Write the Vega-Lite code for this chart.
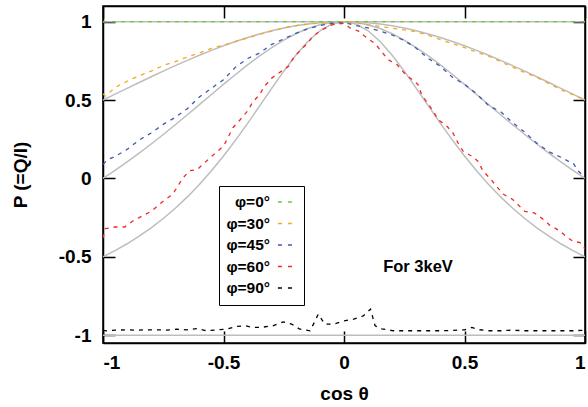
{
  "$schema": "https://vega.github.io/schema/vega-lite/v6.json",
  "width": 482,
  "height": 337,
  "autosize": "none",
  "padding": {"left": 103, "top": 6, "right": 3, "bottom": 64},
  "background": "white",
  "config": {
    "view": {"stroke": "black", "strokeWidth": 1.5},
    "axis": {
      "domainColor": "black", "domainWidth": 1.5,
      "labelFont": "Liberation Sans", "labelFontSize": 19, "labelFontWeight": "bold", "labelColor": "black",
      "titleFont": "Liberation Sans", "titleFontSize": 19, "titleFontWeight": "bold", "titleColor": "black",
      "grid": false, "ticks": false
    },
    "legend": {
      "orient": "none", "legendX": 116, "legendY": 180,
      "strokeColor": "black", "fillColor": "white", "padding": 8,
      "labelFont": "Liberation Sans", "labelFontSize": 15.5, "labelFontWeight": "bold", "labelColor": "black",
      "labelAlign": "right", "labelOffset": -23, "symbolOffset": 50,
      "symbolType": "stroke", "symbolSize": 200, "symbolStrokeWidth": 1.5, "symbolDash": [4, 6],
      "rowPadding": 4.5
    }
  },
  "datasets": {
    "theory": [
      {"g":"0","c":-1,"P":1},{"g":"0","c":1,"P":1},
      {"g":"90","c":-1,"P":-1},{"g":"90","c":1,"P":-1},
      {"g":"30","c":-1,"P":0.5},{"g":"30","c":-0.95,"P":0.5375},{"g":"30","c":-0.9,"P":0.5748},{"g":"30","c":-0.85,"P":0.6118},{"g":"30","c":-0.8,"P":0.6484},{"g":"30","c":-0.75,"P":0.6842},{"g":"30","c":-0.7,"P":0.7192},{"g":"30","c":-0.65,"P":0.7531},{"g":"30","c":-0.6,"P":0.7857},{"g":"30","c":-0.55,"P":0.8168},{"g":"30","c":-0.5,"P":0.8462},{"g":"30","c":-0.45,"P":0.8735},{"g":"30","c":-0.4,"P":0.8987},{"g":"30","c":-0.35,"P":0.9215},{"g":"30","c":-0.3,"P":0.9418},{"g":"30","c":-0.25,"P":0.9592},{"g":"30","c":-0.2,"P":0.9737},{"g":"30","c":-0.15,"P":0.9851},{"g":"30","c":-0.1,"P":0.9934},{"g":"30","c":-0.05,"P":0.9983},{"g":"30","c":0,"P":1},
      {"g":"30","c":0.05,"P":0.9983},{"g":"30","c":0.1,"P":0.9934},{"g":"30","c":0.15,"P":0.9851},{"g":"30","c":0.2,"P":0.9737},{"g":"30","c":0.25,"P":0.9592},{"g":"30","c":0.3,"P":0.9418},{"g":"30","c":0.35,"P":0.9215},{"g":"30","c":0.4,"P":0.8987},{"g":"30","c":0.45,"P":0.8735},{"g":"30","c":0.5,"P":0.8462},{"g":"30","c":0.55,"P":0.8168},{"g":"30","c":0.6,"P":0.7857},{"g":"30","c":0.65,"P":0.7531},{"g":"30","c":0.7,"P":0.7192},{"g":"30","c":0.75,"P":0.6842},{"g":"30","c":0.8,"P":0.6484},{"g":"30","c":0.85,"P":0.6118},{"g":"30","c":0.9,"P":0.5748},{"g":"30","c":0.95,"P":0.5375},{"g":"30","c":1,"P":0.5},
      {"g":"45","c":-1,"P":0},{"g":"45","c":-0.95,"P":0.0513},{"g":"45","c":-0.9,"P":0.105},{"g":"45","c":-0.85,"P":0.1611},{"g":"45","c":-0.8,"P":0.2195},{"g":"45","c":-0.75,"P":0.28},{"g":"45","c":-0.7,"P":0.3423},{"g":"45","c":-0.65,"P":0.406},{"g":"45","c":-0.6,"P":0.4706},{"g":"45","c":-0.55,"P":0.5355},{"g":"45","c":-0.5,"P":0.6},{"g":"45","c":-0.45,"P":0.6632},{"g":"45","c":-0.4,"P":0.7241},{"g":"45","c":-0.35,"P":0.7817},{"g":"45","c":-0.3,"P":0.8349},{"g":"45","c":-0.25,"P":0.8824},{"g":"45","c":-0.2,"P":0.9231},{"g":"45","c":-0.15,"P":0.956},{"g":"45","c":-0.1,"P":0.9802},{"g":"45","c":-0.05,"P":0.995},{"g":"45","c":0,"P":1},
      {"g":"45","c":0.05,"P":0.995},{"g":"45","c":0.1,"P":0.9802},{"g":"45","c":0.15,"P":0.956},{"g":"45","c":0.2,"P":0.9231},{"g":"45","c":0.25,"P":0.8824},{"g":"45","c":0.3,"P":0.8349},{"g":"45","c":0.35,"P":0.7817},{"g":"45","c":0.4,"P":0.7241},{"g":"45","c":0.45,"P":0.6632},{"g":"45","c":0.5,"P":0.6},{"g":"45","c":0.55,"P":0.5355},{"g":"45","c":0.6,"P":0.4706},{"g":"45","c":0.65,"P":0.406},{"g":"45","c":0.7,"P":0.3423},{"g":"45","c":0.75,"P":0.28},{"g":"45","c":0.8,"P":0.2195},{"g":"45","c":0.85,"P":0.1611},{"g":"45","c":0.9,"P":0.105},{"g":"45","c":0.95,"P":0.0513},{"g":"45","c":1,"P":0},
      {"g":"60","c":-1,"P":-0.5},{"g":"60","c":-0.95,"P":-0.4606},{"g":"60","c":-0.9,"P":-0.4169},{"g":"60","c":-0.85,"P":-0.3686},{"g":"60","c":-0.8,"P":-0.3151},{"g":"60","c":-0.75,"P":-0.2558},{"g":"60","c":-0.7,"P":-0.1903},{"g":"60","c":-0.65,"P":-0.118},{"g":"60","c":-0.6,"P":-0.0385},{"g":"60","c":-0.55,"P":0.0485},{"g":"60","c":-0.5,"P":0.1429},{"g":"60","c":-0.45,"P":0.2442},{"g":"60","c":-0.4,"P":0.3514},{"g":"60","c":-0.35,"P":0.4625},{"g":"60","c":-0.3,"P":0.5748},{"g":"60","c":-0.25,"P":0.6842},{"g":"60","c":-0.2,"P":0.7857},{"g":"60","c":-0.15,"P":0.8735},{"g":"60","c":-0.1,"P":0.9418},{"g":"60","c":-0.05,"P":0.9851},{"g":"60","c":0,"P":1},
      {"g":"60","c":0.05,"P":0.9851},{"g":"60","c":0.1,"P":0.9418},{"g":"60","c":0.15,"P":0.8735},{"g":"60","c":0.2,"P":0.7857},{"g":"60","c":0.25,"P":0.6842},{"g":"60","c":0.3,"P":0.5748},{"g":"60","c":0.35,"P":0.4625},{"g":"60","c":0.4,"P":0.3514},{"g":"60","c":0.45,"P":0.2442},{"g":"60","c":0.5,"P":0.1429},{"g":"60","c":0.55,"P":0.0485},{"g":"60","c":0.6,"P":-0.0385},{"g":"60","c":0.65,"P":-0.118},{"g":"60","c":0.7,"P":-0.1903},{"g":"60","c":0.75,"P":-0.2558},{"g":"60","c":0.8,"P":-0.3151},{"g":"60","c":0.85,"P":-0.3686},{"g":"60","c":0.9,"P":-0.4169},{"g":"60","c":0.95,"P":-0.4606},{"g":"60","c":1,"P":-0.5}
    ],
    "sim": [
      {"s":"φ=0°","c":-1,"P":1},{"s":"φ=0°","c":1,"P":1},
      {"s":"φ=30°","c":-1,"P":0.54},{"s":"φ=30°","c":-0.99,"P":0.525},{"s":"φ=30°","c":-0.95,"P":0.58},{"s":"φ=30°","c":-0.9,"P":0.62},{"s":"φ=30°","c":-0.85,"P":0.655},{"s":"φ=30°","c":-0.8,"P":0.685},{"s":"φ=30°","c":-0.75,"P":0.72},{"s":"φ=30°","c":-0.7,"P":0.745},{"s":"φ=30°","c":-0.65,"P":0.775},{"s":"φ=30°","c":-0.6,"P":0.8},{"s":"φ=30°","c":-0.55,"P":0.83},{"s":"φ=30°","c":-0.5,"P":0.85},{"s":"φ=30°","c":-0.45,"P":0.875},{"s":"φ=30°","c":-0.4,"P":0.895},{"s":"φ=30°","c":-0.35,"P":0.92},{"s":"φ=30°","c":-0.3,"P":0.94},{"s":"φ=30°","c":-0.25,"P":0.96},{"s":"φ=30°","c":-0.2,"P":0.975},{"s":"φ=30°","c":-0.15,"P":0.985},{"s":"φ=30°","c":-0.1,"P":0.99},{"s":"φ=30°","c":-0.05,"P":0.995},{"s":"φ=30°","c":0,"P":1},
      {"s":"φ=30°","c":0.05,"P":0.995},{"s":"φ=30°","c":0.1,"P":0.98},{"s":"φ=30°","c":0.15,"P":0.97},{"s":"φ=30°","c":0.2,"P":0.958},{"s":"φ=30°","c":0.25,"P":0.948},{"s":"φ=30°","c":0.3,"P":0.935},{"s":"φ=30°","c":0.35,"P":0.913},{"s":"φ=30°","c":0.4,"P":0.885},{"s":"φ=30°","c":0.45,"P":0.86},{"s":"φ=30°","c":0.5,"P":0.835},{"s":"φ=30°","c":0.55,"P":0.805},{"s":"φ=30°","c":0.6,"P":0.78},{"s":"φ=30°","c":0.65,"P":0.745},{"s":"φ=30°","c":0.7,"P":0.71},{"s":"φ=30°","c":0.75,"P":0.675},{"s":"φ=30°","c":0.8,"P":0.645},{"s":"φ=30°","c":0.85,"P":0.605},{"s":"φ=30°","c":0.9,"P":0.565},{"s":"φ=30°","c":0.95,"P":0.535},{"s":"φ=30°","c":1,"P":0.5},
      {"s":"φ=45°","c":-1,"P":0.09},{"s":"φ=45°","c":-0.98,"P":0.12},{"s":"φ=45°","c":-0.95,"P":0.14},{"s":"φ=45°","c":-0.9,"P":0.185},{"s":"φ=45°","c":-0.85,"P":0.245},{"s":"φ=45°","c":-0.8,"P":0.29},{"s":"φ=45°","c":-0.75,"P":0.345},{"s":"φ=45°","c":-0.7,"P":0.39},{"s":"φ=45°","c":-0.65,"P":0.445},{"s":"φ=45°","c":-0.6,"P":0.52},{"s":"φ=45°","c":-0.55,"P":0.575},{"s":"φ=45°","c":-0.5,"P":0.63},{"s":"φ=45°","c":-0.45,"P":0.71},{"s":"φ=45°","c":-0.4,"P":0.765},{"s":"φ=45°","c":-0.35,"P":0.8},{"s":"φ=45°","c":-0.3,"P":0.855},{"s":"φ=45°","c":-0.25,"P":0.89},{"s":"φ=45°","c":-0.2,"P":0.925},{"s":"φ=45°","c":-0.15,"P":0.955},{"s":"φ=45°","c":-0.1,"P":0.975},{"s":"φ=45°","c":-0.05,"P":0.99},{"s":"φ=45°","c":0,"P":0.995},
      {"s":"φ=45°","c":0.05,"P":0.975},{"s":"φ=45°","c":0.1,"P":0.96},{"s":"φ=45°","c":0.15,"P":0.94},{"s":"φ=45°","c":0.2,"P":0.915},{"s":"φ=45°","c":0.25,"P":0.88},{"s":"φ=45°","c":0.3,"P":0.83},{"s":"φ=45°","c":0.35,"P":0.765},{"s":"φ=45°","c":0.4,"P":0.715},{"s":"φ=45°","c":0.45,"P":0.645},{"s":"φ=45°","c":0.5,"P":0.6},{"s":"φ=45°","c":0.55,"P":0.54},{"s":"φ=45°","c":0.6,"P":0.465},{"s":"φ=45°","c":0.65,"P":0.425},{"s":"φ=45°","c":0.7,"P":0.355},{"s":"φ=45°","c":0.75,"P":0.295},{"s":"φ=45°","c":0.8,"P":0.225},{"s":"φ=45°","c":0.85,"P":0.17},{"s":"φ=45°","c":0.9,"P":0.135},{"s":"φ=45°","c":0.93,"P":0.11},{"s":"φ=45°","c":0.95,"P":0.1},{"s":"φ=45°","c":0.97,"P":0.05},{"s":"φ=45°","c":0.99,"P":0.02},{"s":"φ=45°","c":1,"P":0},
      {"s":"φ=60°","c":-1,"P":-0.38},{"s":"φ=60°","c":-0.99,"P":-0.32},{"s":"φ=60°","c":-0.95,"P":-0.31},{"s":"φ=60°","c":-0.91,"P":-0.31},{"s":"φ=60°","c":-0.875,"P":-0.27},{"s":"φ=60°","c":-0.85,"P":-0.25},{"s":"φ=60°","c":-0.8,"P":-0.21},{"s":"φ=60°","c":-0.75,"P":-0.145},{"s":"φ=60°","c":-0.71,"P":-0.1},{"s":"φ=60°","c":-0.67,"P":0},{"s":"φ=60°","c":-0.64,"P":0.05},{"s":"φ=60°","c":-0.61,"P":0.055},{"s":"φ=60°","c":-0.55,"P":0.14},{"s":"φ=60°","c":-0.5,"P":0.206},{"s":"φ=60°","c":-0.46,"P":0.325},{"s":"φ=60°","c":-0.43,"P":0.376},{"s":"φ=60°","c":-0.4,"P":0.43},{"s":"φ=60°","c":-0.38,"P":0.484},{"s":"φ=60°","c":-0.35,"P":0.535},{"s":"φ=60°","c":-0.33,"P":0.588},{"s":"φ=60°","c":-0.3,"P":0.64},{"s":"φ=60°","c":-0.27,"P":0.673},{"s":"φ=60°","c":-0.23,"P":0.715},{"s":"φ=60°","c":-0.21,"P":0.769},{"s":"φ=60°","c":-0.18,"P":0.82},{"s":"φ=60°","c":-0.15,"P":0.864},{"s":"φ=60°","c":-0.13,"P":0.906},{"s":"φ=60°","c":-0.09,"P":0.949},{"s":"φ=60°","c":-0.05,"P":0.98},{"s":"φ=60°","c":0,"P":0.99},
      {"s":"φ=60°","c":0.025,"P":0.96},{"s":"φ=60°","c":0.06,"P":0.94},{"s":"φ=60°","c":0.095,"P":0.896},{"s":"φ=60°","c":0.13,"P":0.858},{"s":"φ=60°","c":0.157,"P":0.807},{"s":"φ=60°","c":0.183,"P":0.758},{"s":"φ=60°","c":0.22,"P":0.726},{"s":"φ=60°","c":0.245,"P":0.68},{"s":"φ=60°","c":0.274,"P":0.64},{"s":"φ=60°","c":0.307,"P":0.6},{"s":"φ=60°","c":0.322,"P":0.535},{"s":"φ=60°","c":0.345,"P":0.484},{"s":"φ=60°","c":0.37,"P":0.43},{"s":"φ=60°","c":0.39,"P":0.376},{"s":"φ=60°","c":0.427,"P":0.333},{"s":"φ=60°","c":0.452,"P":0.29},{"s":"φ=60°","c":0.473,"P":0.227},{"s":"φ=60°","c":0.494,"P":0.174},{"s":"φ=60°","c":0.53,"P":0.142},{"s":"φ=60°","c":0.556,"P":0.11},{"s":"φ=60°","c":0.577,"P":0.047},{"s":"φ=60°","c":0.606,"P":0},{"s":"φ=60°","c":0.66,"P":-0.1},{"s":"φ=60°","c":0.7,"P":-0.134},{"s":"φ=60°","c":0.75,"P":-0.21},{"s":"φ=60°","c":0.79,"P":-0.22},{"s":"φ=60°","c":0.826,"P":-0.26},{"s":"φ=60°","c":0.855,"P":-0.3},{"s":"φ=60°","c":0.896,"P":-0.335},{"s":"φ=60°","c":0.925,"P":-0.376},{"s":"φ=60°","c":0.95,"P":-0.4},{"s":"φ=60°","c":0.98,"P":-0.41},{"s":"φ=60°","c":1,"P":-0.45},
      {"s":"φ=90°","c":-1,"P":-0.97},{"s":"φ=90°","c":-0.985,"P":-0.972},{"s":"φ=90°","c":-0.943,"P":-0.968},{"s":"φ=90°","c":-0.9,"P":-0.966},{"s":"φ=90°","c":-0.86,"P":-0.968},{"s":"φ=90°","c":-0.82,"P":-0.966},{"s":"φ=90°","c":-0.777,"P":-0.966},{"s":"φ=90°","c":-0.736,"P":-0.968},{"s":"φ=90°","c":-0.694,"P":-0.962},{"s":"φ=90°","c":-0.653,"P":-0.966},{"s":"φ=90°","c":-0.611,"P":-0.958},{"s":"φ=90°","c":-0.57,"P":-0.972},{"s":"φ=90°","c":-0.528,"P":-0.966},{"s":"φ=90°","c":-0.487,"P":-0.962},{"s":"φ=90°","c":-0.45,"P":-0.945},{"s":"φ=90°","c":-0.41,"P":-0.94},{"s":"φ=90°","c":-0.376,"P":-0.951},{"s":"φ=90°","c":-0.343,"P":-0.95},{"s":"φ=90°","c":-0.295,"P":-0.94},{"s":"φ=90°","c":-0.252,"P":-0.915},{"s":"φ=90°","c":-0.217,"P":-0.93},{"s":"φ=90°","c":-0.183,"P":-0.962},{"s":"φ=90°","c":-0.141,"P":-0.972},{"s":"φ=90°","c":-0.12,"P":-0.91},{"s":"φ=90°","c":-0.107,"P":-0.866},{"s":"φ=90°","c":-0.079,"P":-0.93},{"s":"φ=90°","c":-0.044,"P":-0.93},{"s":"φ=90°","c":0,"P":-0.909},{"s":"φ=90°","c":0.04,"P":-0.898},{"s":"φ=90°","c":0.08,"P":-0.877},{"s":"φ=90°","c":0.11,"P":-0.834},{"s":"φ=90°","c":0.129,"P":-0.94},{"s":"φ=90°","c":0.157,"P":-0.96},{"s":"φ=90°","c":0.205,"P":-0.972},{"s":"φ=90°","c":0.25,"P":-0.972},{"s":"φ=90°","c":0.3,"P":-0.972},{"s":"φ=90°","c":0.35,"P":-0.972},{"s":"φ=90°","c":0.4,"P":-0.972},{"s":"φ=90°","c":0.45,"P":-0.97},{"s":"φ=90°","c":0.5,"P":-0.966},{"s":"φ=90°","c":0.53,"P":-0.951},{"s":"φ=90°","c":0.56,"P":-0.965},{"s":"φ=90°","c":0.6,"P":-0.972},{"s":"φ=90°","c":0.65,"P":-0.972},{"s":"φ=90°","c":0.7,"P":-0.968},{"s":"φ=90°","c":0.75,"P":-0.972},{"s":"φ=90°","c":0.8,"P":-0.972},{"s":"φ=90°","c":0.85,"P":-0.972},{"s":"φ=90°","c":0.9,"P":-0.972},{"s":"φ=90°","c":0.95,"P":-0.972},{"s":"φ=90°","c":1,"P":-0.968}
    ],
    "note": [{"c": 0.307, "P": -0.567, "t": "For 3keV"}]
  },
  "resolve": {"axis": {"x": "independent", "y": "independent"}},
  "layer": [
    {
      "mark": {"type": "rule", "strokeDash": [1, 2], "strokeWidth": 1, "color": "black"},
      "encoding": {
        "y": {"datum": 0, "type": "quantitative", "scale": {"domain": [-1.05, 1.1], "nice": false, "zero": false},
              "axis": {"orient": "right", "labels": false, "title": null}}
      }
    },
    {
      "mark": {"type": "rule", "strokeDash": [1, 2], "strokeWidth": 1, "color": "black"},
      "encoding": {
        "x": {"datum": 0, "type": "quantitative", "scale": {"domain": [-1, 1], "nice": false, "zero": false},
              "axis": {"orient": "top", "labels": false, "title": null}}
      }
    },
    {
      "data": {"name": "theory"},
      "mark": {"type": "line", "color": "#bdbdbd", "strokeWidth": 1.5, "clip": true},
      "encoding": {
        "x": {"field": "c", "type": "quantitative", "scale": {"domain": [-1, 1], "nice": false, "zero": false},
              "axis": {"orient": "bottom", "title": "cos θ", "values": [-1, -0.5, 0, 0.5, 1], "labelPadding": 10, "titlePadding": 12, "labelExpr": "'' + datum.value",
                       "grid": true, "gridColor": "black", "gridWidth": 1.5, "gridOpacity": 1, "gridDash": [12, 313, 12, 2000]}},
        "y": {"field": "P", "type": "quantitative", "scale": {"domain": [-1.05, 1.1], "nice": false, "zero": false},
              "axis": {"orient": "left", "title": "P (=Q/I)", "values": [-1, -0.5, 0, 0.5, 1], "labelPadding": 12, "titlePadding": 28, "labelExpr": "'' + datum.value",
                       "grid": true, "gridColor": "black", "gridWidth": 1.5, "gridOpacity": 1, "gridDash": [12, 458, 12, 2000]}},
        "detail": {"field": "g"}
      }
    },
    {
      "data": {"name": "sim"},
      "mark": {"type": "line", "strokeWidth": 1.3, "strokeDash": [4, 5], "clip": true},
      "encoding": {
        "x": {"field": "c", "type": "quantitative", "scale": {"domain": [-1, 1], "nice": false, "zero": false}, "axis": null},
        "y": {"field": "P", "type": "quantitative", "scale": {"domain": [-1.05, 1.1], "nice": false, "zero": false}, "axis": null},
        "color": {"field": "s", "type": "nominal", "title": null,
                  "scale": {"domain": ["φ=0°", "φ=30°", "φ=45°", "φ=60°", "φ=90°"], "range": ["#6cc644", "#f5a81e", "#3b5bab", "#f02828", "#000000"]}},
        "order": {"field": "c", "type": "quantitative"}
      }
    },
    {
      "data": {"name": "note"},
      "mark": {"type": "text", "font": "Liberation Sans", "fontSize": 16.5, "fontWeight": "bold", "color": "black"},
      "encoding": {
        "x": {"field": "c", "type": "quantitative", "scale": {"domain": [-1, 1], "nice": false, "zero": false}, "axis": null},
        "y": {"field": "P", "type": "quantitative", "scale": {"domain": [-1.05, 1.1], "nice": false, "zero": false}, "axis": null},
        "text": {"field": "t"}
      }
    }
  ]
}
